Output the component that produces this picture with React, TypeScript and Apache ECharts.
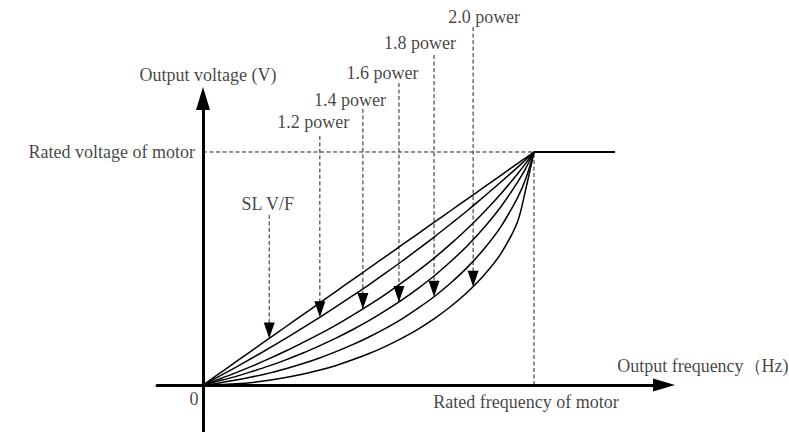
import React, { useEffect, useRef } from "react";
import * as echarts from "echarts";

// Output frequency as % of rated frequency
const freqPct = [0, 5, 10, 15, 20, 25, 30, 35, 40, 45, 50, 55, 60, 65, 70, 75, 80, 85, 90, 95, 97.5, 100];
// Output voltage as % of rated voltage, per curve
const slVF = [0, 5, 10, 15, 20, 25, 30, 35, 40, 45, 50, 55, 60, 65, 70, 75, 80, 85, 90, 95, 97.5, 100];
const power12 = [0, 3.8, 7.7, 11.7, 15.8, 20.0, 24.4, 28.8, 33.4, 38.1, 42.9, 47.9, 53.0, 58.3, 63.7, 69.3, 75.0, 81.0, 87.1, 93.4, 96.7, 100];
const power14 = [0, 2.6, 5.3, 8.2, 11.3, 14.6, 18.1, 21.7, 25.6, 29.8, 34.2, 38.8, 43.8, 49.1, 54.7, 60.8, 67.3, 74.4, 82.1, 90.6, 95.1, 100];
const power16 = [0, 1.8, 3.7, 5.9, 8.2, 10.8, 13.6, 16.7, 20.0, 23.6, 27.5, 31.8, 36.4, 41.5, 47.0, 53.2, 60.0, 67.7, 76.5, 87.0, 93.0, 100];
const power18 = [0, 0.9, 2.1, 3.5, 5.1, 7.0, 9.1, 11.5, 14.2, 17.2, 20.5, 24.2, 28.3, 33.0, 38.1, 44.0, 50.7, 58.6, 68.0, 80.3, 88.5, 100];
const power20 = [0, 0.1, 0.5, 1.1, 2.0, 3.2, 4.6, 6.3, 8.3, 10.7, 13.4, 16.5, 20.0, 24.0, 28.6, 33.9, 40.0, 47.3, 56.4, 70.0, 84.0, 100];
const curves = [slVF, power12, power14, power16, power18, power20];

// Constant-voltage segment above rated frequency
const flatFreq = [100, 124.5];
const flatVolt = [100, 100];

// Annotation arrows
const curveLabels = ["SL V/F", "1.2 power", "1.4 power", "1.6 power", "1.8 power", "2.0 power"];
const arrowFreq = [20, 35.3, 48.3, 59.2, 69.8, 81.6];
const arrowTip = [20, 29.1, 32.6, 35.6, 37.9, 42.2];
const arrowTop = [73, 106.9, 118.5, 129.6, 141.6, 153.6];

const axisTexts = {
  yName: "Output voltage (V)",
  xName: "Output frequency（Hz)",
  ratedV: "Rated voltage of motor",
  ratedF: "Rated frequency of motor",
  zero: "0",
};

const FONT = "'Liberation Serif', 'Times New Roman', serif";

export default function App() {
  const ref = useRef<HTMLDivElement>(null);
  useEffect(() => {
    if (!ref.current) return;
    const chart = echarts.init(ref.current, undefined, { renderer: "svg" });
    const textStyle = { fontFamily: FONT, fontSize: 18, color: "#111" };
    const labelOffsets = [
      [-1.5, -11],
      [-6.5, -14],
      [-13, -9],
      [-16.5, -10.5],
      [-14, -12],
      [11, -10],
    ];
    const dashed = { color: "#222", width: 1, type: [4, 2.5] as any };

    const series: any[] = [];
    curves.forEach((c, k) => {
      series.push({
        type: "line",
        name: curveLabels[k],
        data: freqPct.map((x, i) => [x, c[i]]),
        smooth: 0.3,
        symbol: "none",
        clip: false,
        lineStyle: { color: "#000", width: 1.5 },
        z: 3,
      });
    });
    series.push({
      type: "line",
      data: flatFreq.map((x, i) => [x, flatVolt[i]]),
      symbol: "none",
      clip: false,
      lineStyle: { color: "#000", width: 2 },
      z: 3,
    });
    series.push({
      type: "line",
      data: [
        [0, 100],
        [100, 100],
      ],
      symbol: "none",
      clip: false,
      lineStyle: dashed,
      z: 2,
    });
    series.push({
      type: "line",
      data: [
        [100, 0],
        [100, 100],
      ],
      symbol: "none",
      clip: false,
      lineStyle: dashed,
      z: 2,
    });
    arrowFreq.forEach((x, i) => {
      series.push({
        type: "line",
        data: [
          [x, arrowTop[i]],
          [x, arrowTip[i]],
        ],
        symbol: "none",
        clip: false,
        lineStyle: dashed,
        z: 2,
      });
    });
    series.push({
      type: "scatter",
      data: arrowFreq.map((x, i) => [x, arrowTip[i]]),
      symbol: "triangle",
      symbolRotate: 180,
      symbolSize: [11, 16],
      symbolOffset: [0, -8],
      clip: false,
      itemStyle: { color: "#000", opacity: 1 },
      emphasis: { disabled: true },
      z: 5,
    });
    series.push({
      type: "scatter",
      symbolSize: 0.1,
      clip: false,
      itemStyle: { color: "transparent" },
      data: arrowFreq.map((x, i) => ({
        value: [x, arrowTop[i]],
        label: {
          show: true,
          position: "inside",
          offset: labelOffsets[i],
          formatter: curveLabels[i],
          ...textStyle,
        },
      })),
      z: 6,
    });
    series.push({
      type: "scatter",
      symbolSize: 0.1,
      clip: false,
      itemStyle: { color: "transparent" },
      data: [
        {
          value: [0, 122.96],
          label: { show: true, position: "inside", offset: [5, -23.5], formatter: axisTexts.yName, ...textStyle },
        },
        {
          value: [0, 100],
          label: { show: true, position: "left", distance: 8, formatter: axisTexts.ratedV, ...textStyle },
        },
        {
          value: [100, 0],
          label: { show: true, position: "bottom", distance: 8, offset: [-8, 0], formatter: axisTexts.ratedF, ...textStyle },
        },
        {
          value: [0, 0],
          label: { show: true, position: "bottom", distance: 5, offset: [-9, 0], formatter: axisTexts.zero, ...textStyle },
        },
        {
          value: [125.1, 0],
          label: { show: true, position: "right", distance: 0, offset: [0, -19], formatter: axisTexts.xName, ...textStyle },
        },
      ],
      z: 6,
    });

    chart.setOption({
      animation: false,
      backgroundColor: "#fff",
      grid: { left: 157, right: 125, top: 98.5, bottom: 0, containLabel: false },
      xAxis: {
        type: "value",
        min: -13.9,
        max: 139.27,
        axisLine: {
          show: true,
          onZero: true,
          symbol: ["none", "triangle"],
          symbolSize: [13, 22],
          lineStyle: { color: "#000", width: 3 },
        },
        axisTick: { show: false },
        axisLabel: { show: false },
        splitLine: { show: false },
      },
      yAxis: {
        type: "value",
        min: -20.17,
        max: 122.96,
        axisLine: {
          show: true,
          onZero: true,
          symbol: ["none", "triangle"],
          symbolSize: [14, 23],
          lineStyle: { color: "#000", width: 3 },
        },
        axisTick: { show: false },
        axisLabel: { show: false },
        splitLine: { show: false },
      },
      series,
    });
    return () => chart.dispose();
  }, []);
  return (
    <div
      ref={ref}
      style={{ position: "fixed", left: 0, top: 0, width: 789, height: 432, background: "#fff" }}
    />
  );
}
